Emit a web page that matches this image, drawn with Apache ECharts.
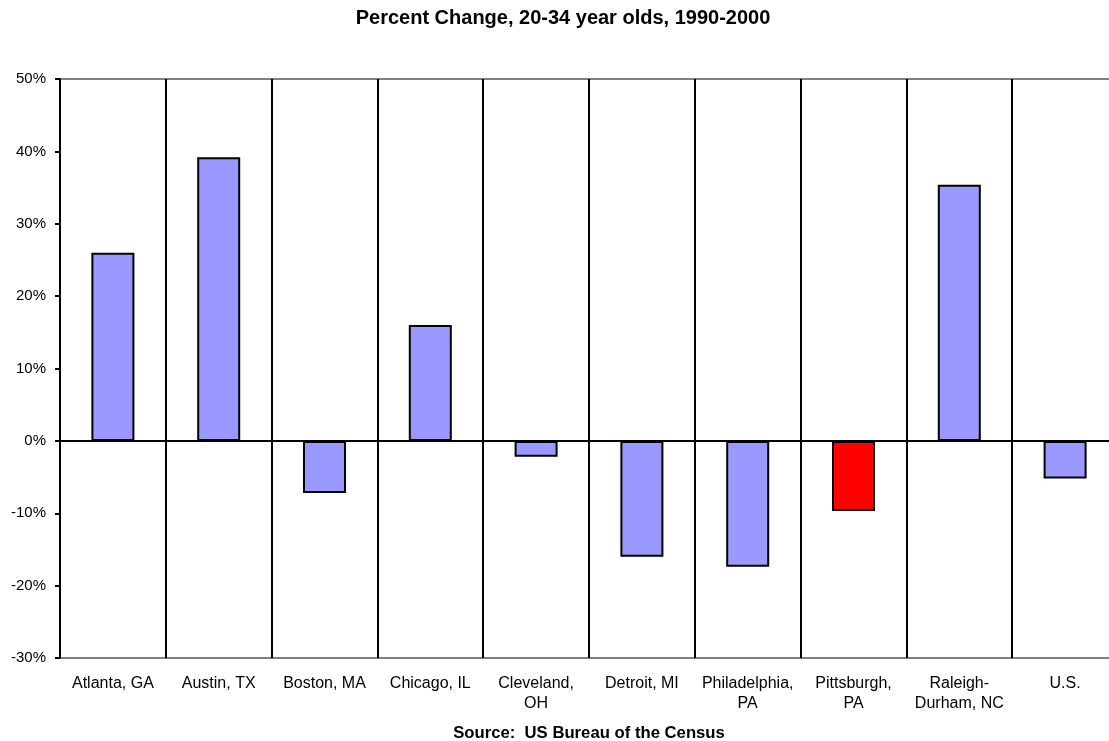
<!DOCTYPE html>
<html>
<head>
<meta charset="utf-8">
<title>Percent Change, 20-34 year olds, 1990-2000</title>
<script src="https://cdn.jsdelivr.net/npm/echarts@6/dist/echarts.min.js"></script>
<style>
  html, body { margin: 0; padding: 0; background: #ffffff; overflow: hidden; }
  /* the plot runs a few pixels past the right edge of the window */
  #chart { width: 1118px; height: 741px; }
</style>
</head>
<body>
<div id="chart"></div>
<script>
// Metro areas compared (line breaks follow the printed labels)
const categories = [
  'Atlanta, GA', 'Austin, TX', 'Boston, MA', 'Chicago, IL', 'Cleveland,\nOH',
  'Detroit, MI', 'Philadelphia,\nPA', 'Pittsburgh,\nPA', 'Raleigh-\nDurham, NC', 'U.S.'
];
// Percent change in population aged 20-34, 1990 to 2000
const percentChange = [26.0, 39.2, -7.2, 16.0, -2.2, -16.0, -17.4, -9.7, 35.4, -5.2];
// Category drawn in the accent colour
const highlighted = 'Pittsburgh,\nPA';
// Value axis range and step
const yMin = -30, yMax = 50, yStep = 10;

const FONT = '"Liberation Sans", Arial, sans-serif';
const chart = echarts.init(document.getElementById('chart'));

const barData = percentChange.map((v, i) => ({
  value: v,
  itemStyle: { color: categories[i] === highlighted ? '#ff0000' : '#9999ff' }
}));

chart.setOption({
  animation: false,
  backgroundColor: '#ffffff',
  grid: {
    left: 60, top: 79, right: 0, bottom: 83,
    show: true, borderColor: '#808080', borderWidth: 2, backgroundColor: 'transparent'
  },
  graphic: [
    {
      type: 'text', x: 563, y: 18,
      style: {
        text: 'Percent Change, 20-34 year olds, 1990-2000',
        font: 'bold 20px ' + FONT, fill: '#000', align: 'center', verticalAlign: 'middle'
      }
    },
    {
      type: 'text', x: 589, y: 733,
      style: {
        text: 'Source:  US Bureau of the Census',
        font: 'bold 16.7px ' + FONT, fill: '#000', align: 'center', verticalAlign: 'middle'
      }
    }
  ],
  xAxis: {
    type: 'category',
    data: categories,
    boundaryGap: true,
    axisLine: { show: false, onZero: false },
    axisTick: { show: false },
    splitLine: { show: true, interval: 0, lineStyle: { color: '#000', width: 2 } },
    axisLabel: {
      interval: 0, margin: 16, color: '#000',
      fontFamily: FONT, fontSize: 16, lineHeight: 20, align: 'center'
    }
  },
  yAxis: {
    type: 'value',
    min: yMin, max: yMax, interval: yStep,
    axisLine: { show: true, lineStyle: { color: '#000', width: 2 } },
    axisTick: { show: true, length: 5, lineStyle: { color: '#000', width: 2 } },
    splitLine: { show: false },
    axisLabel: {
      formatter: '{value}%', color: '#000', margin: 14,
      fontFamily: FONT, fontSize: 15
    }
  },
  series: [{
    type: 'bar',
    data: barData,
    barWidth: 43,
    itemStyle: { borderColor: '#000', borderWidth: 2 },
    markLine: {
      silent: true,
      symbol: 'none',
      label: { show: false },
      lineStyle: { color: '#000', width: 2, type: 'solid' },
      data: [{ yAxis: 0 }]
    }
  }]
});
</script>
</body>
</html>
